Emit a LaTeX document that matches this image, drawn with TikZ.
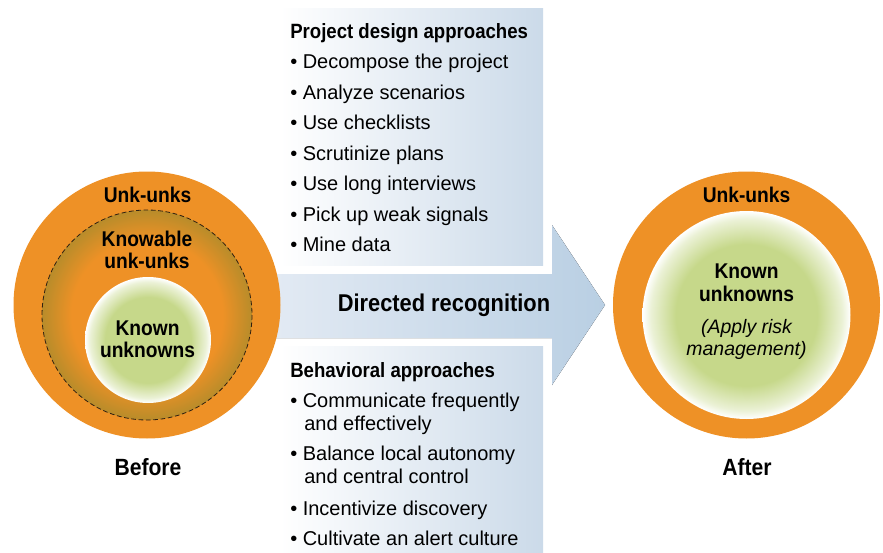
\documentclass[tikz,border=0pt]{standalone}
\usepackage{fontspec}
\setmainfont{Liberation Sans}
\newfontfamily\condfont{Liberation Sans}[FakeStretch=0.9]

\definecolor{ringorange}{RGB}{238,145,38}
\definecolor{ringolive}{RGB}{184,140,42}
\definecolor{knowngreen}{RGB}{198,216,138}
\definecolor{arrowlight}{RGB}{228,235,244}
\definecolor{arrowdark}{RGB}{185,207,227}
\definecolor{boxblue}{RGB}{203,218,233}

% ring between dashed line and the known part, darker at its rim
\pgfdeclareradialshading{knowable}{\pgfpoint{0bp}{0bp}}{color(0bp)=(ringorange); color(18bp)=(ringorange); color(25bp)=(ringolive); color(50bp)=(ringolive)}
% green ball fading to white at the edge
\pgfdeclareradialshading{knownball}{\pgfpoint{0bp}{0bp}}{color(0bp)=(knowngreen); color(17bp)=(knowngreen); color(23bp)=(knowngreen!35); color(25bp)=(white); color(50bp)=(white)}

\begin{document}
\begin{tikzpicture}[x=0.75pt,y=-0.75pt,
    every node/.style={inner sep=0pt},
    circlab/.style={font=\condfont\bfseries\fontsize{16}{19}\selectfont, anchor=base},
    risknote/.style={font=\itshape\fontsize{14.6}{17}\selectfont, anchor=base},
    stage/.style={font=\condfont\bfseries\fontsize{17.6}{20}\selectfont, anchor=base},
    listhead/.style={font=\condfont\bfseries\fontsize{15.5}{18}\selectfont, anchor=base west},
    listitem/.style={font=\fontsize{15}{18}\selectfont, anchor=base west}]
    \useasboundingbox (0,0) rectangle (883,553);

    % big arrow, then the two boxes laid over it with a white margin
    \fill[left color=arrowlight, right color=arrowdark] (262,274) -- (552,274) -- (552,225) -- (605,305)
        -- (552,385) -- (552,338) -- (262,338) -- cycle;
    \fill[white] (262,0) rectangle (551,273);
    \fill[left color=white, right color=boxblue] (280,8) rectangle (543,265);
    \fill[white] (262,339) rectangle (551,553);
    \fill[left color=white, right color=boxblue] (280,346) rectangle (543,553);

    \node[font=\condfont\bfseries\fontsize{18.2}{21}\selectfont, anchor=base] (dirrec) at (444,311.5) {Directed recognition};

    % before
    \fill[ringorange] (147,305) circle[radius=133.5];
    \shade[shading=knowable] (147,315) circle[radius=105];
    \draw[dash pattern=on 3.5pt off 2pt, line width=0.6pt, color=black!75!brown] (147,315) circle[radius=105];
    \shade[shading=knownball] (148,340) circle[radius=63];
    \node[circlab] (unkL) at (147.5,202.5) {Unk-unks};
    \node[circlab] (knowable) at (147,246.5) {Knowable};
    \node[circlab] (knowable2) at (147,268.5) {unk-unks};
    \node[circlab] (knownL) at (147.5,335) {Known};
    \node[circlab] (knownL2) at (147.5,357) {unknowns};
    \node[stage] (before) at (148,475) {Before};

    % after
    \fill[ringorange] (746.5,305) circle[radius=133.5];
    \shade[shading=knownball] (746.5,315) circle[radius=104];
    \node[circlab] (unkR) at (746.5,202.5) {Unk-unks};
    \node[circlab] (knownR) at (746.5,278.5) {Known};
    \node[circlab] (knownR2) at (746.5,301.5) {unknowns};
    \node[risknote] (risk) at (746.5,333.5) {(Apply risk};
    \node[risknote] (risk2) at (746.5,355.5) {management)};
    \node[stage] (after) at (747,475) {After};

    % project design approaches
    \node[listhead] (pdhead) at (290,38.5) {Project design approaches};
    \node[listitem] (pd1) at (290,68.5) {\textbullet\ Decompose the project};
    \node[listitem] (pd2) at (290,99) {\textbullet\ Analyze scenarios};
    \node[listitem] (pd3) at (290,129.5) {\textbullet\ Use checklists};
    \node[listitem] (pd4) at (290,160) {\textbullet\ Scrutinize plans};
    \node[listitem] (pd5) at (290,190.5) {\textbullet\ Use long interviews};
    \node[listitem] (pd6) at (290,221) {\textbullet\ Pick up weak signals};
    \node[listitem] (pd7) at (290,251.5) {\textbullet\ Mine data};

    % behavioral approaches
    \node[listhead] (bhhead) at (290,377) {Behavioral approaches};
    \node[listitem] (bh1) at (290,407.5) {\textbullet\ Communicate frequently};
    \node[listitem] (bh1b) at (304,430) {and effectively};
    \node[listitem] (bh2) at (290,460.5) {\textbullet\ Balance local autonomy};
    \node[listitem] (bh2b) at (304,483.5) {and central control};
    \node[listitem] (bh3) at (290,515) {\textbullet\ Incentivize discovery};
    \node[listitem] (bh4) at (290,545) {\textbullet\ Cultivate an alert culture};
\end{tikzpicture}
\end{document}
